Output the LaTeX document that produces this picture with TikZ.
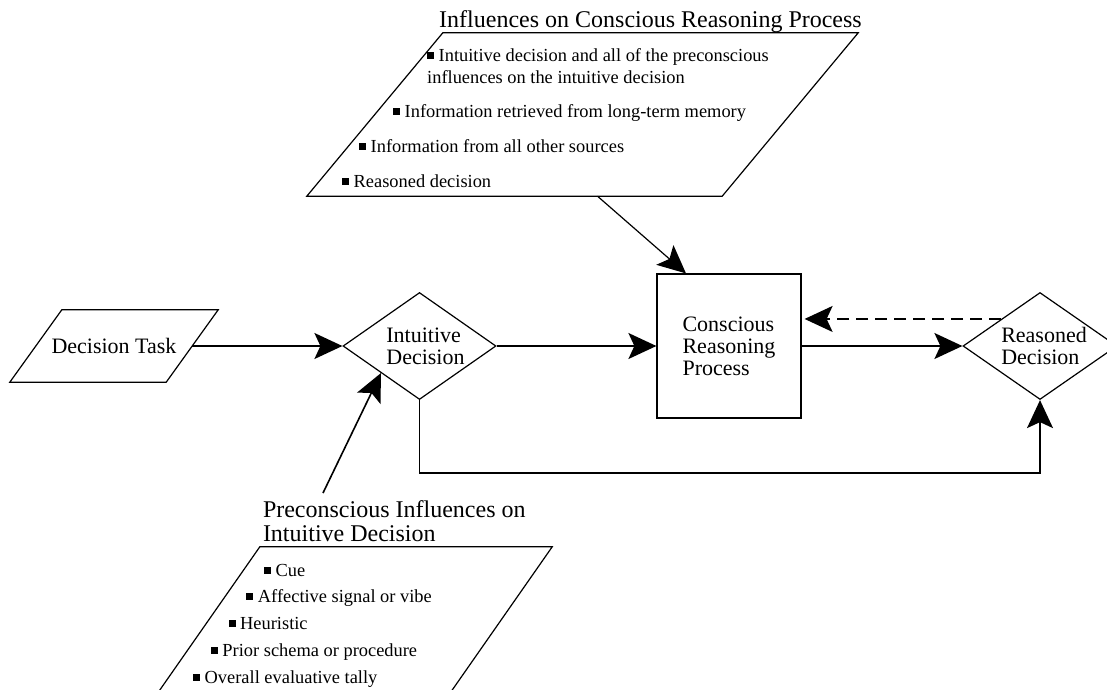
\documentclass[tikz,border=0pt]{standalone}
\usepackage{fontspec}
\setmainfont{Liberation Serif}
\usetikzlibrary{arrows.meta}
\usetikzlibrary{shapes.geometric}

\newcommand{\bul}{\rule[2.5pt]{7pt}{7pt}\hspace{4.5pt}}
% slanted outline round a plain node
\newcommand{\slantframe}[2]{\draw[frame] ([xshift=#2]#1.north west) -- ([xshift=#2]#1.north east) -- ([xshift=-#2]#1.south east) -- ([xshift=-#2]#1.south west) -- cycle;}

\begin{document}
\begin{tikzpicture}[x=1pt,y=-1pt]
    \tikzstyle{io} = [rectangle, inner sep=0pt, align=center, font=\fontsize{22}{22}\selectfont];
    \tikzstyle{frame} = [line width=1.2pt, line join=miter];
    \tikzstyle{decision} = [diamond, draw, line width=1.2pt, aspect=1.43, inner sep=0pt, minimum width=153, minimum height=107, align=left, font=\fontsize{22}{22}\selectfont];
    \tikzstyle{process} = [rectangle, draw, line width=1.2pt, minimum size=144, align=left, font=\fontsize{22}{22}\selectfont];
    \tikzstyle{heading} = [inner sep=0pt, align=left, font=\fontsize{24}{24}\selectfont];
    \tikzstyle{item} = [inner sep=0pt, align=left, anchor=base west, font=\fontsize{18.4}{22}\selectfont];
    \tikzstyle{line} = [draw, line width=1.6pt, -{Stealth[length=28pt, width=26pt, inset=6pt]}];
    \useasboundingbox (0,0) rectangle (1107,689);

    \node[io, minimum width=156, minimum height=72] (task) at (114,346) {Decision Task};
    \node[decision] (intuitive) at (419.5,346) {\hspace*{12pt}Intuitive\\\hspace*{12pt}Decision};
    \node[process] (conscious) at (729,346) {Conscious\\Reasoning\\Process};
    \node[decision, minimum width=154] (reasoned) at (1040,346) {\hspace*{8pt}Reasoned\\\hspace*{8pt}Decision};

    % influences on the reasoning
    \node[io, minimum width=415, minimum height=163] (influences) at (582.5,114.5) {};
    \node[heading, anchor=south] (inftitle) at ([xshift=68]influences.north) {Influences on Conscious Reasoning Process};
    \node[item, anchor=north west] (inf1) at (427,48.3) {\bul Intuitive decision and all of the preconscious\\influences on the intuitive decision};
    \node[item] (inf2) at (393,117) {\bul Information retrieved from long-term memory};
    \node[item] (inf3) at (359,152) {\bul Information from all other sources};
    \node[item] (inf4) at (342,187) {\bul Reasoned decision};

    % preconscious influences
    \node[io, minimum width=292, minimum height=160] (preinf) at (350,627) {};
    \node[heading, anchor=south west, yshift=5pt] (pretitle) at ([xshift=59]preinf.north west) {Preconscious Influences on\\Intuitive Decision};
    \foreach \what [count=\i] in {Cue, Affective signal or vibe, Heuristic, Prior schema or procedure, Overall evaluative tally}
        \node[item] (pre\i) at ({264-17.75*(\i-1)},{576+26.8*(\i-1)}) {\bul\what};

    \slantframe{task}{26}
    \slantframe{influences}{68}
    \slantframe{preinf}{56}
    \coordinate (prestart) at (323,493);

    \tikzstyle{every path}=[line]
    \path (task) -- (intuitive);
    \path (intuitive) -- (conscious);
    \path (conscious) -- (reasoned);
    \path[line width=1.2pt] ([xshift=15]influences.south) -- ([xshift=-43]conscious.north);
    \path (prestart) -- (intuitive.south west);
    \path (intuitive.south) -- ++(0,73) -| (reasoned.south);
    \path[dash pattern=on 12pt off 7pt, shorten >=3pt] (reasoned.north west) -- (reasoned.north west -| conscious.east);
\end{tikzpicture}
\end{document}
